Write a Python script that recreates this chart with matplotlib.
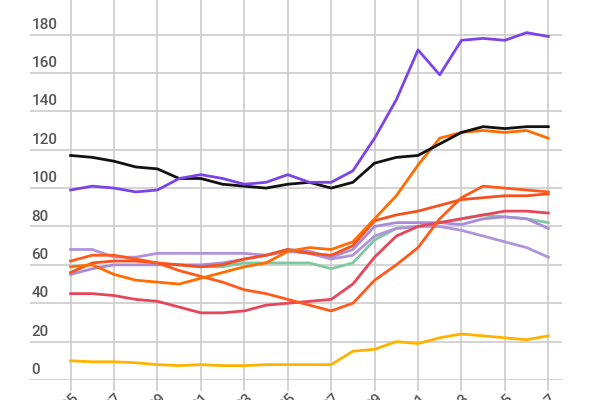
import matplotlib
matplotlib.use("Agg")
import matplotlib.pyplot as plt
import numpy as np

years = list(range(1995, 2018))
nan = np.nan
black = [117,116,114,111,110,105,105,102,101,100,102,103,100,103,113,116,117,123,129,132,131,132,132]
purple = [99,101,100,98,99,105,107,105,102,103,107,103,103,109,126,146,172,159,177,178,177,181,179]
orange_hi = [59,60,55,52,51,50,53,56,59,61,67,69,68,72,84,96,112,126,129,130,129,130,126]
orange_mid = [62,65,65,63,61,57,54,51,47,45,42,39,36,40,52,60,69,84,95,101,100,99,98]
red_orange = [56,61,62,62,61,60,59,60,63,65,68,66,65,70,83,86,88,91,94,95,96,96,97]
crimson = [45,45,44,42,41,38,35,35,36,39,40,41,42,50,64,75,80,82,84,86,88,88,87]
green = [nan,nan,nan,nan,nan,60,59,59,61,61,61,61,58,61,73,79,80,82,84,86,85,84,82]
lav_a = [68,68,64,64,66,66,66,66,66,65,67,66,63,65,75,79,80,80,78,75,72,69,64]
lav_b = [55,58,60,60,60,60,60,61,63,65,68,67,64,68,80,82,82,82,81,84,85,84,79]
yellow = [10,9.5,9.5,9,8,7.5,8,7.5,7.5,8,8,8,8,15,16,20,19,22,24,23,22,21,23]

series = [
    (green, "#7cc9a2"), (lav_a, "#b193d9"), (lav_b, "#a98bdc"),
    (crimson, "#e8455a"), (red_orange, "#f4511e"), (orange_mid, "#ff5a1a"),
    (orange_hi, "#ff6d00"), (yellow, "#ffb300"), (black, "#111111"), (purple, "#7c44e6"),
]

plt.rcParams['font.family'] = ['Roboto', 'DejaVu Sans']
fig = plt.figure(figsize=(6, 4), dpi=100)
ax = fig.add_axes([0.05, 0.05, 0.887, 0.95])
ax.set_xlim(1993.13, 2017.64)
ax.set_ylim(0, 198)
for s, c in series:
    ax.plot(years, s, color=c, lw=2, solid_joinstyle='round')

for v in range(0, 200, 20):
    ax.axhline(v, color="#cccccc", lw=1.2, zorder=0)
    ax.text(1993.2, v + 1.5, str(v), fontsize=11, fontweight='medium',
            color="#555555", ha='left', va='bottom')
xt = list(range(1995, 2018, 2))
for x in xt:
    ax.axvline(x, color="#cccccc", lw=1.2, zorder=0)
ax.set_xticks(xt)
ax.set_xticklabels([f"{x % 100:02d}" for x in xt], rotation=45, ha='center', va='top',
                   fontsize=11, fontweight='medium', color="#555555")
ax.tick_params(axis='x', length=8, color="#cccccc", width=1.2, pad=0)
ax.set_yticks([])
for sp in ax.spines.values():
    sp.set_visible(False)
fig.savefig("out.png", dpi=100)
